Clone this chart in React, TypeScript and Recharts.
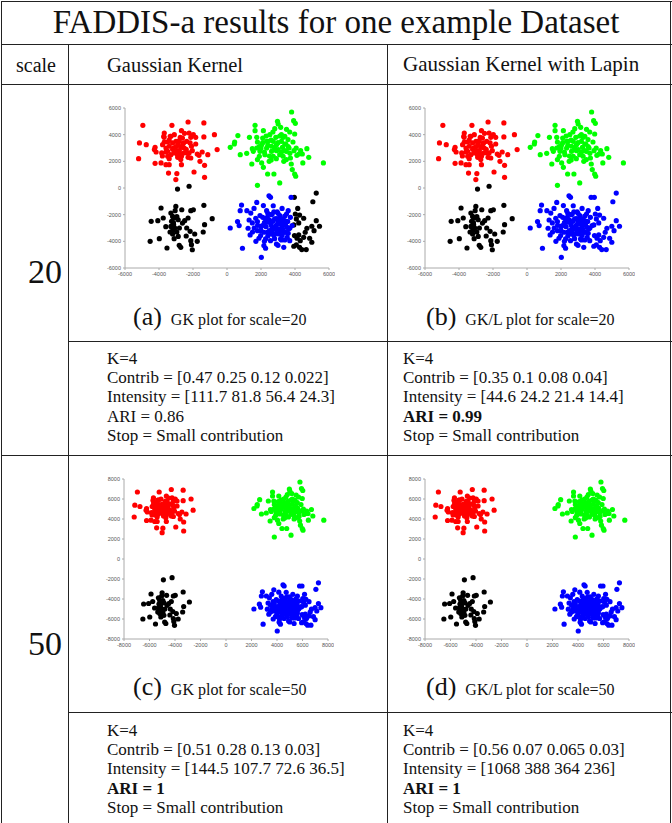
import React from "react";
import { ScatterChart, Scatter, XAxis, YAxis } from "recharts";

type Pt = [number, number];

// cluster points at scale=20 (cluster centres near ±3000)
const redPts: Pt[] = [
  [-4950, 4700], [-5150, 3380], [-4750, 3250], [-5200, 2200], [-4230, 3050], [-4270, 2880],
  [-4170, 2700], [-4230, 1850], [-3880, 1880], [-3840, 2630], [-3690, 3450], [-3720, 3880],
  [-3690, 4120], [-3490, 3450], [-3400, 3130], [-3340, 3880], [-3240, 4700], [-3300, 3880],
  [-3200, 3380], [-3140, 3000], [-3490, 2750], [-3490, 2380], [-3400, 2200], [-3590, 1750],
  [-3400, 1750], [-3440, 1120], [-2950, 1080], [-3010, 630], [-2910, 2500], [-2950, 2750],
  [-2870, 3250], [-2810, 3550], [-2750, 3800], [-2680, 4300], [-2620, 3750], [-2560, 3380],
  [-2520, 3000], [-2520, 2630], [-2680, 2380], [-2720, 2130], [-2680, 1750], [-2290, 4950],
  [-2230, 4120], [-2130, 3800], [-2170, 3380], [-2090, 3130], [-2040, 2800], [-2230, 2630],
  [-2130, 2250], [-2290, 2300], [-1980, 4000], [-1840, 3800], [-1840, 3300], [-1940, 1200],
  [-1750, 2550], [-1650, 2450], [-1590, 2000], [-1460, 2700], [-1360, 4880], [-1360, 3830],
  [-1320, 1700], [-1320, 800], [-1130, 2500], [-740, 4000], [-580, 2880], [-3100, 2630],
  [-3000, 3500], [-2370, 3500], [-2720, 3050], [-3300, 2500], [-3590, 3000], [-3790, 3250],
  [-3200, 2900], [-3000, 3100], [-2800, 2800], [-2600, 3300], [-2400, 2900], [-3600, 2700],
  [-3400, 3600], [-2900, 2300], [-3100, 4000], [-2500, 4100], [-2700, 2550], [-3800, 2400],
  [-2300, 2600], [-3700, 3800],
];

const greenPts: Pt[] = [
  [190, 3050], [430, 3300], [450, 3450], [640, 3930], [780, 2500], [1160, 2600], [1320, 3800],
  [1490, 2950], [1550, 2750], [1650, 4700], [1650, 4300], [1750, 3800], [1790, 3450], [1750, 3000],
  [1790, 2130], [1460, 1800], [1790, 200], [1900, 2380], [1940, 2750], [2040, 3250], [2100, 3750],
  [2140, 4300], [2040, 1880], [2140, 1550], [2230, 2500], [2330, 3000], [2390, 1050], [2430, 3500],
  [2520, 4000], [2620, 2750], [2720, 2380], [2760, 1050], [2810, 4450], [2870, 3800], [2910, 3250],
  [2970, 5000], [3010, 4800], [3010, 2880], [3100, 2500], [3100, 380], [3160, 4550], [3200, 3500],
  [3260, 3050], [3300, 2380], [3340, 2000], [3400, 3880], [3460, 3300], [3490, 2750], [3590, 3630],
  [3650, 3000], [3690, 4200], [3730, 2250], [3780, 1800], [3840, 1380], [3880, 3450], [3800, 5700],
  [3920, 5050], [4020, 4850], [3980, 4050], [3940, 2800], [3980, 1050], [4040, 880], [4070, 3000],
  [4110, 2450], [4230, 2550], [4330, 2800], [4430, 2550], [4460, 1880], [4700, 2950], [4810, 2300],
  [5670, 1880], [2330, 3500], [2720, 3500], [2620, 3130], [2910, 2800], [3400, 2800], [3200, 4000],
  [2480, 2000], [3490, 2130], [2000, 3000], [2200, 2700], [2400, 3200], [2600, 3600], [2800, 3000],
  [3000, 3400], [3200, 2700], [3400, 3300], [3600, 3100], [2500, 2400], [2900, 2200], [3300, 3800],
  [2100, 3400], [3700, 2600], [2700, 4200], [3100, 3900], [2300, 3900], [3500, 4400], [1900, 3100],
  [2600, 2100],
];

const blackPts: Pt[] = [
  [-2910, -80], [-2230, 130], [-3010, -1380], [-2660, -1630], [-2130, -1700], [-1980, -1630],
  [-1360, -1300], [-3880, -1500], [-4460, -2500], [-4070, -2450], [-3750, -2250], [-3300, -1880],
  [-3200, -2130], [-3110, -2250], [-3260, -2500], [-3140, -2750], [-3300, -2880], [-3070, -3000],
  [-3200, -3200], [-2950, -3300], [-3110, -3800], [-3200, -3450], [-2870, -3630], [-2810, -4300],
  [-2720, -4450], [-3530, -4500], [-3980, -3800], [-4520, -4000], [-2490, -2450], [-2290, -2250],
  [-2370, -3000], [-2170, -3250], [-2130, -3950], [-2090, -4250], [-2040, -4630], [-1900, -3450],
  [-1750, -4000], [-1400, -3300], [-1320, -2750], [-870, -2300], [-2620, -2630], [-2870, -2380],
  [-3150, -2600], [-2950, -2150], [-3350, -3300], [-2800, -3000], [-3050, -1700], [-2400, -3600],
  [-3600, -2900],
];

const bluePts: Pt[] = [
  [190, -3000], [620, -2520], [715, -2820], [775, -1700], [855, -1280], [910, -4520], [1170, -1700],
  [1240, -3020], [1360, -3520], [1400, -1880], [1490, -2620], [1590, -1530], [1690, -2270],
  [1750, -1080], [1790, -3200], [1880, -3770], [1940, -2070], [2020, -5200], [2080, -2820],
  [2140, -1320], [2170, -4320], [2270, -4520], [2270, -2320], [2330, -1700], [2370, -3320],
  [2470, -580], [2560, -700], [2560, -3950], [2600, -2770], [2660, -1950], [2720, -1330],
  [2760, -3570], [2800, -2320], [2850, -3070], [2910, -4200], [2950, -1780], [2990, -2620],
  [3050, -3450], [3110, -2070], [3150, -3820], [3190, -3020], [3240, -1530], [3300, -2320],
  [3340, -4450], [3380, -3320], [3440, -2770], [3500, -1950], [3540, -3700], [3570, -2520],
  [3630, -3070], [3690, -3950], [3730, -2200], [3770, -700], [3830, -2820], [2170, -3320],
  [2470, -2570], [2950, -3070], [2660, -2950], [3240, -3570], [1980, -3570], [2760, -1780],
  [3440, -3320], [2370, -2200], [1790, -2520], [3050, -2320], [3540, -2950], [2270, -3820],
  [3240, -2570], [2560, -3450], [1600, -3000], [2000, -2900], [2900, -2800], [3300, -2750],
  [2500, -3200], [3100, -3300], [2200, -2600], [2700, -2500], [3400, -3900], [1700, -4000],
  [2100, -2200], [2300, -2900], [2500, -2400], [2700, -3100], [2900, -2300], [3100, -2700],
  [3300, -3100], [3500, -2500], [2400, -3600], [2800, -3800], [3200, -3900], [3600, -3400],
  [2000, -3200], [2600, -2000], [3000, -1900], [3400, -2100], [1800, -2800], [2200, -4000],
  [3000, -4300], [3700, -3000], [1500, -3300], [1300, -2400], [2400, -1900], [3600, -1700],
  [2900, -3400], [2300, -2550], [3350, -2450], [2650, -3350],
];

// right edge of the blue cluster: assigned to the black cluster by GK at scale=20
const edgePts: Pt[] = [
  [5250, -380], [5050, -1030], [4160, -1530], [3960, -700], [4020, -1950], [4270, -2030],
  [4510, -2270], [4080, -2320], [4220, -2620], [3930, -2770], [5250, -2450], [5440, -2870],
  [4990, -2870], [4700, -3020], [5120, -3200], [4600, -3320], [4220, -3520], [3970, -3570],
  [4510, -3700], [4120, -3770], [4860, -3770], [4310, -3950], [4990, -4070], [4080, -4270],
  [4270, -4450], [4660, -4620], [4400, -4620], [3930, -4370],
];

const ticks20 = [-6000, -4000, -2000, 0, 2000, 4000, 6000];
const ticks50 = [-8000, -6000, -4000, -2000, 0, 2000, 4000, 6000, 8000];

// at scale=50 each cluster sits 2000 further out along both axes
const shift50 = 2000;

const RED = "#ff0000";
const GREEN = "#00ff00";
const BLACK = "#000000";
const BLUE = "#0000ff";

type Group = { color: string; pts: Pt[]; sx: number; sy: number };

const toData = (g: Group, d: number) =>
  g.pts.map(([x, y]) => ({ x: x + g.sx * d, y: y + g.sy * d }));

const Dot = (props: any) => <circle cx={props.cx} cy={props.cy} r={2.6} fill={props.fill} />;

const Y_W = 24;
const M_TOP = 6;
const M_RIGHT = 6;
const X_H = 12;
const PLOT_W = 204;
const PLOT_H = 160;

function Panel({ left, top, groups, shift, ticks }: {
  left: number; top: number; groups: Group[]; shift: number; ticks: number[];
}) {
  const lim = ticks[ticks.length - 1];
  const tickStyle = { fontSize: 5.5, fill: "#555", fontFamily: "Liberation Sans" };
  return (
    <div style={{ position: "absolute", left: left - Y_W, top: top - M_TOP }}>
      <ScatterChart
        width={Y_W + PLOT_W + M_RIGHT}
        height={M_TOP + PLOT_H + X_H}
        margin={{ top: M_TOP, right: M_RIGHT, bottom: 0, left: 0 }}
      >
        <XAxis
          type="number"
          dataKey="x"
          domain={[-lim, lim]}
          ticks={ticks}
          height={X_H}
          tick={tickStyle}
          tickSize={2}
          stroke="#aaa"
          interval={0}
        />
        <YAxis
          type="number"
          dataKey="y"
          domain={[-lim, lim]}
          ticks={ticks}
          width={Y_W}
          tick={tickStyle}
          tickSize={2}
          stroke="#aaa"
          interval={0}
        />
        {groups.map((g, i) => (
          <Scatter key={i} data={toData(g, shift)} fill={g.color} shape={Dot} isAnimationActive={false} />
        ))}
      </ScatterChart>
    </div>
  );
}

const red: Group = { color: RED, pts: redPts, sx: -1, sy: 1 };
const green: Group = { color: GREEN, pts: greenPts, sx: 1, sy: 1 };
const black: Group = { color: BLACK, pts: blackPts, sx: -1, sy: -1 };
const blue: Group = { color: BLUE, pts: bluePts, sx: 1, sy: -1 };
const edgeBlack: Group = { color: BLACK, pts: edgePts, sx: 1, sy: -1 };
const edgeBlue: Group = { color: BLUE, pts: edgePts, sx: 1, sy: -1 };

const serif = "'Liberation Serif', 'Times New Roman', serif";
const LINE = "#222";

const HLine = ({ y, x1, x2 }: { y: number; x1: number; x2: number }) => (
  <div style={{ position: "absolute", left: x1, top: y, width: x2 - x1, height: 1.4, background: LINE }} />
);
const VLine = ({ x, y1, y2 }: { x: number; y1: number; y2: number }) => (
  <div style={{ position: "absolute", left: x, top: y1, width: 1.4, height: y2 - y1, background: LINE }} />
);

function Label({ x, y, size, children, center, width, bold }: any) {
  return (
    <div
      style={{
        position: "absolute",
        left: center ? x - width / 2 : x,
        width: center ? width : undefined,
        top: y - size * 0.6,
        fontSize: size,
        lineHeight: `${size * 1.2}px`,
        fontFamily: serif,
        fontWeight: bold ? "bold" : "normal",
        textAlign: center ? "center" : "left",
        whiteSpace: "nowrap",
        color: "#111",
      }}
    >
      {children}
    </div>
  );
}

function Caption({ x, y, tag, text }: { x: number; y: number; tag: string; text: string }) {
  return (
    <div style={{ position: "absolute", left: x, top: y - 17, fontFamily: serif, whiteSpace: "nowrap", color: "#111", lineHeight: "32px" }}>
      <span style={{ fontSize: 26 }}>{tag}</span>
      <span style={{ fontSize: 16, marginLeft: 9 }}>{text}</span>
    </div>
  );
}

function Stats({ x, y, lines, boldIdx }: { x: number; y: number; lines: string[]; boldIdx: number }) {
  return (
    <>
      {lines.map((l, i) => (
        <Label key={i} x={x} y={y + i * 19.3} size={17} bold={i === boldIdx}>
          {l}
        </Label>
      ))}
    </>
  );
}

export default function App() {
  return (
    <div style={{ position: "absolute", left: 0, top: 0, width: 672, height: 823, background: "#fff", overflow: "hidden" }}>
      <HLine y={0.5} x1={0.5} x2={672} />
      <VLine x={0.5} y1={0.5} y2={823} />
      <VLine x={670} y1={0.5} y2={823} />
      <HLine y={44} x1={0.5} x2={672} />
      <HLine y={84} x1={0.5} x2={672} />
      <VLine x={68} y1={44} y2={823} />
      <VLine x={387} y1={44} y2={823} />
      <HLine y={341} x1={68} x2={672} />
      <HLine y={455} x1={0.5} x2={672} />
      <HLine y={712} x1={68} x2={672} />

      <Label x={336} y={23} size={33} center width={672}>FADDIS-a results for one example Dataset</Label>
      <Label x={36} y={65} size={20} center width={68}>scale</Label>
      <Label x={107} y={65} size={20.5}>Gaussian Kernel</Label>
      <Label x={403} y={65} size={21}>Gaussian Kernel with Lapin</Label>
      <Label x={45} y={272} size={34} center width={68}>20</Label>
      <Label x={45} y={644} size={34} center width={68}>50</Label>

      <Panel left={125} top={108} shift={0} ticks={ticks20} groups={[red, green, black, edgeBlack, blue]} />
      <Panel left={425} top={108} shift={0} ticks={ticks20} groups={[red, green, black, blue, edgeBlue]} />
      <Panel left={124} top={479} shift={shift50} ticks={ticks50} groups={[red, green, black, blue, edgeBlue]} />
      <Panel left={425} top={479} shift={shift50} ticks={ticks50} groups={[red, green, black, blue, edgeBlue]} />

      <Caption x={133} y={318} tag="(a)" text="GK plot for scale=20" />
      <Caption x={426} y={318} tag="(b)" text="GK/L plot for scale=20" />
      <Caption x={133} y={688} tag="(c)" text="GK plot for scale=50" />
      <Caption x={426} y={688} tag="(d)" text="GK/L plot for scale=50" />

      <Stats x={107} y={359} boldIdx={-1} lines={[
        "K=4", "Contrib = [0.47 0.25 0.12 0.022]", "Intensity = [111.7 81.8 56.4 24.3]",
        "ARI = 0.86", "Stop = Small contribution"]} />
      <Stats x={403} y={359} boldIdx={3} lines={[
        "K=4", "Contrib = [0.35 0.1 0.08 0.04]", "Intensity = [44.6 24.2 21.4 14.4]",
        "ARI = 0.99", "Stop = Small contribution"]} />
      <Stats x={107} y={731} boldIdx={3} lines={[
        "K=4", "Contrib = [0.51 0.28 0.13 0.03]", "Intensity = [144.5 107.7 72.6 36.5]",
        "ARI = 1", "Stop = Small contribution"]} />
      <Stats x={403} y={731} boldIdx={3} lines={[
        "K=4", "Contrib = [0.56 0.07 0.065 0.03]", "Intensity = [1068 388 364 236]",
        "ARI = 1", "Stop = Small contribution"]} />
    </div>
  );
}
